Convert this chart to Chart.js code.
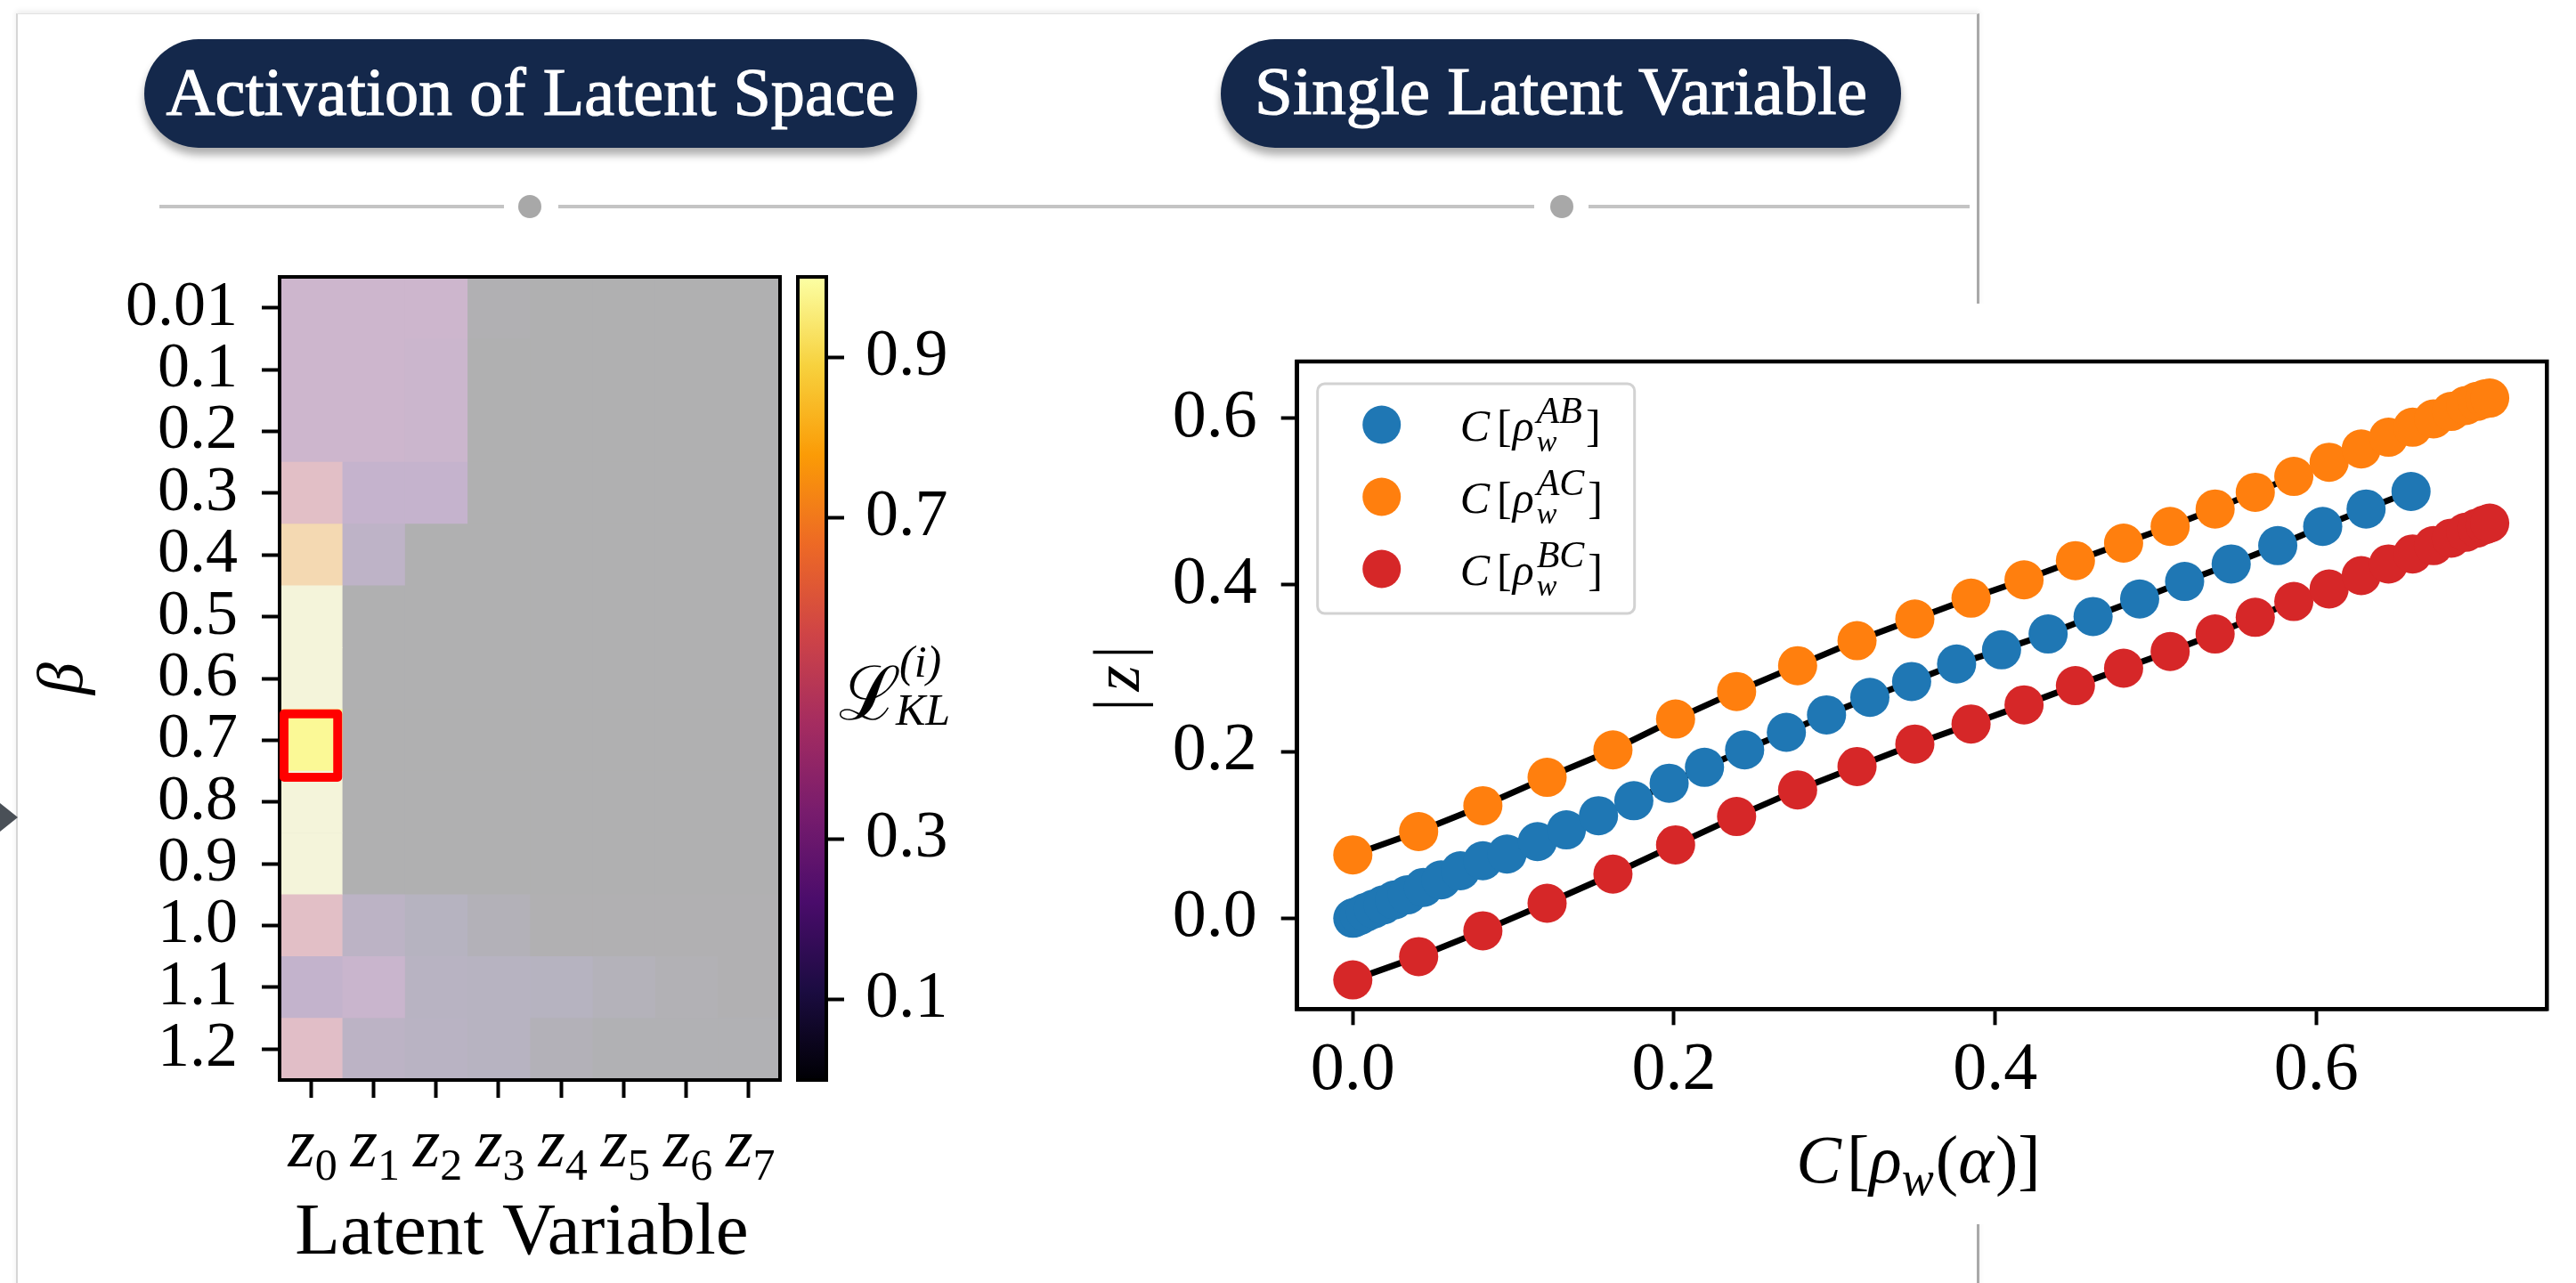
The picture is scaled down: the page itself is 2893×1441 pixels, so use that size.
<!DOCTYPE html>
<html>
<head>
<meta charset="utf-8">
<title>Activation of Latent Space / Single Latent Variable</title>
<script src="https://cdn.jsdelivr.net/npm/chart.js@4.4.1/dist/chart.umd.min.js"></script>
<style>
  html, body { margin:0; padding:0; background:#ffffff; }
  body { width:2893px; height:1441px; position:relative; overflow:hidden; }
  #card { position:absolute; left:18px; top:15px; width:2200px; height:1480px; background:#fff;
          border-left:2px solid #d6d6d6; border-top:1px solid #e2e2e2; border-right:3px solid #a9a9a9;
          box-shadow:0 -3px 6px rgba(0,0,0,0.07); }
  .pill { position:absolute; top:44px; height:122px; border-radius:61px; background:#14284b;
          box-shadow:0 8px 10px rgba(0,0,0,0.32); display:flex; align-items:center; justify-content:center; }
  .pill span { color:#fff; font-family:"Liberation Serif", serif; font-weight:normal; font-size:72px;
          -webkit-text-stroke:1.2px #fff; white-space:nowrap; line-height:1; position:relative; top:-2px; }
  .rule { position:absolute; height:4px; top:230px; background:#c4c4c4; }
  .dot { position:absolute; width:26px; height:26px; border-radius:50%; background:#a8a8a8; top:219px; }
  #arrow { position:absolute; left:0; top:902px; width:0; height:0; border-top:16px solid transparent;
           border-bottom:16px solid transparent; border-left:20px solid #4a5057; }
  canvas { position:absolute; }
  #sc { background:#ffffff; }
</style>
</head>
<body>
<div id="card"></div>
<div class="pill" id="pill1" style="left:162px;width:868px;"><span data-w="819">Activation of Latent Space</span></div>
<div class="pill" id="pill2" style="left:1371px;width:764px;"><span data-w="688">Single Latent Variable</span></div>
<div class="rule" style="left:179px;width:387px;"></div>
<div class="dot" style="left:582px;"></div>
<div class="rule" style="left:627px;width:1096px;"></div>
<div class="dot" style="left:1741px;"></div>
<div class="rule" style="left:1784px;width:428px;"></div>
<div id="arrow"></div>

<canvas id="hm" width="1100" height="1441" style="left:0;top:0;"></canvas>
<canvas id="cb" width="220" height="1441" style="left:880px;top:0;"></canvas>
<canvas id="sc" width="1793" height="1034" style="left:1100px;top:341px;"></canvas>

<script>
// ------------------------- DATA -------------------------
// Heatmap: rows = beta values, columns = latent variables z0..z7
const betaLabels = ['0.01','0.1','0.2','0.3','0.4','0.5','0.6','0.7','0.8','0.9','1.0','1.1','1.2'];
const latentIndex = ['0','1','2','3','4','5','6','7'];
// KL activation per latent variable (one array per column, rows follow betaLabels)
const klZ0 = [0.30, 0.30, 0.30, 0.50, 0.775, 0.99, 0.99, 0.985, 0.99, 0.99, 0.50, 0.21, 0.49];
const klZ1 = [0.30, 0.30, 0.30, 0.23, 0.17, 0, 0, 0, 0, 0, 0.15, 0.27, 0.15];
const klZ2 = [0.30, 0.29, 0.29, 0.23, 0, 0, 0, 0, 0, 0, 0.10, 0.12, 0.13];
const klZ3 = [0.015, 0, 0, 0, 0, 0, 0, 0, 0, 0, 0.05, 0.11, 0.11];
const klZ4 = [0, 0, 0, 0, 0, 0, 0, 0, 0, 0, 0.01, 0.10, 0.05];
const klZ5 = [0, 0, 0, 0, 0, 0, 0, 0, 0, 0, 0.01, 0.06, 0.02];
const klZ6 = [0, 0, 0, 0, 0, 0, 0, 0, 0, 0, 0.01, 0.03, 0.02];
const klZ7 = [0, 0, 0, 0, 0, 0, 0, 0, 0, 0, 0.01, 0.01, 0.02];
const highlightBeta = '0.7';
const highlightLatent = 0;
const colorbarTicks = [0.1, 0.3, 0.7, 0.9];

// Scatter: |z| against concurrence
const cABx = [0.000, 0.001, 0.004, 0.008, 0.013, 0.019, 0.026, 0.034, 0.044, 0.055, 0.067, 0.081, 0.096, 0.115, 0.133, 0.153, 0.175, 0.197, 0.219, 0.244, 0.270, 0.295, 0.322, 0.348, 0.376, 0.404, 0.433, 0.461, 0.490, 0.518, 0.547, 0.576, 0.604, 0.631, 0.659];
const cABy = [0.000, 0.001, 0.003, 0.007, 0.011, 0.016, 0.022, 0.028, 0.037, 0.046, 0.057, 0.069, 0.077, 0.092, 0.106, 0.123, 0.141, 0.162, 0.181, 0.202, 0.223, 0.244, 0.265, 0.284, 0.305, 0.322, 0.341, 0.362, 0.383, 0.404, 0.425, 0.447, 0.470, 0.491, 0.512];
const cACx = [0.000, 0.041, 0.081, 0.121, 0.162, 0.201, 0.239, 0.277, 0.314, 0.350, 0.385, 0.418, 0.450, 0.480, 0.509, 0.537, 0.562, 0.586, 0.608, 0.628, 0.645, 0.660, 0.673, 0.684, 0.693, 0.700, 0.705, 0.708];
const cACy = [0.076, 0.104, 0.135, 0.169, 0.202, 0.239, 0.272, 0.303, 0.333, 0.359, 0.384, 0.406, 0.429, 0.450, 0.470, 0.491, 0.511, 0.530, 0.547, 0.563, 0.577, 0.589, 0.599, 0.608, 0.615, 0.620, 0.623, 0.624];
const cBCx = [0.000, 0.041, 0.081, 0.121, 0.162, 0.201, 0.239, 0.277, 0.314, 0.350, 0.385, 0.418, 0.450, 0.480, 0.509, 0.537, 0.562, 0.586, 0.608, 0.628, 0.645, 0.660, 0.673, 0.684, 0.693, 0.700, 0.705, 0.708];
const cBCy = [-0.074, -0.046, -0.015, 0.018, 0.053, 0.088, 0.122, 0.154, 0.182, 0.209, 0.233, 0.256, 0.279, 0.300, 0.320, 0.341, 0.361, 0.380, 0.395, 0.411, 0.425, 0.437, 0.447, 0.456, 0.463, 0.468, 0.472, 0.474];
const scatterTicks = [0, 0.2, 0.4, 0.6];
const legendPairs = ['AB', 'AC', 'BC'];

// ------------------------- STYLE HELPERS -------------------------
Chart.defaults.color = '#000';
Chart.defaults.font.family = '"Liberation Serif", serif';

const INFERNO = [[0,0,4],[27,12,65],[74,12,107],[120,28,109],[165,44,96],[207,68,70],[237,105,37],[251,155,6],[247,209,61],[252,255,164]];
function inferno(v){
  v = Math.max(0, Math.min(1, v));
  const p = v * (INFERNO.length - 1);
  const i = Math.min(INFERNO.length - 2, Math.floor(p));
  const f = p - i;
  return INFERNO[i].map((c, k) => c + (INFERNO[i+1][k] - c) * f);
}
const CELL_ALPHA = 0.27, CELL_BASE = 241;
function cellColor(v, full){
  const c = inferno(v); const a = full ? 1 : CELL_ALPHA;
  return 'rgb(' + c.map(x => Math.round(CELL_BASE * (1 - a) + x * a)).join(',') + ')';
}
const R = s => `${s}px "Liberation Serif"`;
const I = s => `italic ${s}px "Liberation Serif"`;
function runW(ctx, r){
  if (r.stack) return Math.max(...r.stack.map(s => { ctx.font = s.font; return ctx.measureText(s.text).width + (s.dx || 0); })) + (r.kern || 0);
  ctx.font = r.font; return ctx.measureText(r.text).width + (r.kern || 0);
}
function drawRuns(ctx, runs, x, y, align){
  const total = runs.reduce((a, r) => a + runW(ctx, r), 0);
  let cx = align === 'center' ? x - total / 2 : x;
  ctx.save(); ctx.fillStyle = '#000'; ctx.textAlign = 'left'; ctx.textBaseline = 'alphabetic';
  for (const r of runs){
    const w = runW(ctx, r);
    if (r.stack) for (const s of r.stack){ ctx.font = s.font; ctx.fillText(s.text, cx + (s.dx || 0), y + (s.dy || 0)); }
    else { ctx.font = r.font; ctx.fillText(r.text, cx + (r.pre || 0), y + (r.dy || 0)); }
    cx += w;
  }
  ctx.restore();
}

// fit pill texts
document.querySelectorAll('.pill span').forEach(sp => {
  const target = +sp.dataset.w; const w = sp.getBoundingClientRect().width;
  sp.style.fontSize = (72 * target / w).toFixed(2) + 'px';
});

// ------------------------- HEATMAP -------------------------
const klColumns = [klZ0, klZ1, klZ2, klZ3, klZ4, klZ5, klZ6, klZ7];
const HM = {left:314, right:876, top:311, bottom:1213, yW:250, xH:200, W:1100, H:1441};

const hmDecor = {
  id: 'hmDecor',
  beforeDatasetsDraw(chart){
    const {ctx, chartArea:a} = chart;
    ctx.save(); ctx.fillStyle = cellColor(0, false);
    ctx.fillRect(a.left, a.top, a.right - a.left, a.bottom - a.top); ctx.restore();
  },
  afterDraw(chart){
    const {ctx, chartArea:a, scales:{x, y}} = chart;
    ctx.save();
    ctx.strokeStyle = '#000'; ctx.lineWidth = 4;
    ctx.strokeRect(a.left, a.top, a.right - a.left, a.bottom - a.top);
    // highlighted cell
    const row = betaLabels.indexOf(highlightBeta);
    const x0 = x.getPixelForValue(highlightLatent - 0.5), x1 = x.getPixelForValue(highlightLatent + 0.5);
    const h = y.getPixelForValue(1) - y.getPixelForValue(0);
    const top = y.getPixelForValue(row) - h / 2;
    ctx.strokeStyle = '#ff0000'; ctx.lineWidth = 10; ctx.lineJoin = 'round';
    ctx.strokeRect(x0 + 5, top + 5, (x1 - x0) - 10, h + 2);
    ctx.restore();
    // latent tick labels z_i
    latentIndex.forEach((d, j) => {
      const px = x.getPixelForValue(j);
      drawRuns(ctx, [{text:'z', font:I(78)}, {text:d, font:R(50), dy:15}], px + 2, 1310, 'center');
    });
    // x title
    ctx.save(); ctx.fillStyle = '#000'; ctx.font = R(83); ctx.textAlign = 'center'; ctx.textBaseline = 'alphabetic';
    ctx.fillText('Latent Variable', (a.left + a.right) / 2 - 9, 1408);
    // y title beta
    ctx.translate(92, 762); ctx.rotate(-Math.PI / 2);
    ctx.font = I(72); ctx.fillText('β', 0, 0);
    ctx.restore();
  }
};

new Chart(document.getElementById('hm'), {
  type: 'bar',
  data: {
    labels: betaLabels,
    datasets: klColumns.map((col, j) => ({
      label: 'z' + latentIndex[j],
      data: col.map(() => [j - 0.5, j + 0.5]),
      backgroundColor: col.map((v, i) => cellColor(v, betaLabels[i] === highlightBeta && j === highlightLatent)),
      borderWidth: 0, barPercentage: 1, categoryPercentage: 1, grouped: false
    }))
  },
  options: {
    indexAxis: 'y', responsive: false, animation: false, events: [], devicePixelRatio: 1,
    layout: {padding: {left: HM.left - HM.yW, top: HM.top, right: HM.W - HM.right, bottom: HM.H - HM.bottom - HM.xH}},
    plugins: {legend: {display: false}, tooltip: {enabled: false}},
    scales: {
      x: {type: 'linear', position: 'bottom', min: -0.5, max: 7.5,
          afterBuildTicks: s => { s.ticks = latentIndex.map((_, j) => ({value: j})); },
          afterFit: s => { s.height = HM.xH; },
          ticks: {display: false},
          grid: {drawOnChartArea: false, drawTicks: true, tickLength: 20, tickWidth: 4, tickColor: '#000'},
          border: {display: true, color: '#000', width: 4}},
      y: {type: 'category', position: 'left',
          afterFit: s => { s.width = HM.yW; },
          ticks: {color: '#000', font: {size: 72, lineHeight: 1}, padding: 27, autoSkip: false},
          grid: {offset: false, drawOnChartArea: false, drawTicks: true, tickLength: 20, tickWidth: 4, tickColor: '#000'},
          border: {display: true, color: '#000', width: 4}}
    }
  },
  plugins: [hmDecor]
});

// ------------------------- COLORBAR -------------------------
const CB = {left:16, right:48, top:311, bottom:1213, yW:150, W:220, H:1441};
const cbDecor = {
  id: 'cbDecor',
  afterDraw(chart){
    const {ctx, chartArea:a} = chart;
    ctx.save(); ctx.strokeStyle = '#000'; ctx.lineWidth = 4;
    ctx.strokeRect(a.left, a.top, a.right - a.left, a.bottom - a.top); ctx.restore();
    // colorbar label  L_KL^(i)
    ctx.save(); ctx.fillStyle = '#000'; ctx.textBaseline = 'alphabetic';
    ctx.font = R(84); ctx.fillText('ℒ', 62, 808);
    const lw = ctx.measureText('ℒ').width;
    ctx.font = I(50); ctx.fillText('(i)', 62 + lw - 2, 760);
    ctx.font = I(50); ctx.fillText('KL', 62 + lw - 6, 814);
    ctx.restore();
  }
};
new Chart(document.getElementById('cb'), {
  type: 'bar',
  data: {labels: [''], datasets: [{
    data: [[0, 1]],
    backgroundColor: c => {
      const a = c.chart.chartArea; if (!a) return '#000';
      const g = c.chart.ctx.createLinearGradient(0, a.bottom, 0, a.top);
      INFERNO.forEach((col, i) => g.addColorStop(i / (INFERNO.length - 1), 'rgb(' + col.join(',') + ')'));
      return g;
    },
    barPercentage: 1, categoryPercentage: 1, borderWidth: 0}]},
  options: {
    responsive: false, animation: false, events: [], devicePixelRatio: 1,
    layout: {padding: {left: CB.left, top: CB.top, right: CB.W - CB.right - CB.yW, bottom: CB.H - CB.bottom}},
    plugins: {legend: {display: false}, tooltip: {enabled: false}},
    scales: {
      x: {display: false},
      y: {position: 'right', min: 0, max: 1,
          afterBuildTicks: s => { s.ticks = colorbarTicks.map(v => ({value: v})); },
          afterFit: s => { s.width = CB.yW; },
          ticks: {font: {size: 74, lineHeight: 1}, padding: 24, callback: v => Number(v).toFixed(1)},
          grid: {drawOnChartArea: false, drawTicks: true, tickLength: 20, tickWidth: 4, tickColor: '#000'},
          border: {display: false}}
    }
  },
  plugins: [cbDecor]
});

// ------------------------- SCATTER -------------------------
const SC = {W:1793, H:1034, left:356.7, right:1760.3, top:50.5, bottom:792.3, yW:150, xH:120};
const pts = (xs, ys) => xs.map((x, i) => ({x, y: ys[i]}));
const seriesColors = ['#1f77b4', '#ff7f0e', '#d62728'];
const seriesData = [pts(cABx, cABy), pts(cACx, cACy), pts(cBCx, cBCy)];

const scDecor = {
  id: 'scDecor',
  afterDraw(chart){
    const {ctx, chartArea:a} = chart;
    ctx.save(); ctx.strokeStyle = '#000'; ctx.lineWidth = 4.5;
    ctx.strokeRect(a.left, a.top, a.right - a.left, a.bottom - a.top); ctx.restore();
    // legend
    const bx = a.left + 23, by = a.top + 25, bw = 356, bh = 258;
    ctx.save();
    ctx.fillStyle = 'rgba(255,255,255,0.85)'; ctx.strokeStyle = '#d2d2d2'; ctx.lineWidth = 3;
    ctx.beginPath(); ctx.roundRect(bx, by, bw, bh, 8); ctx.fill(); ctx.stroke();
    legendPairs.forEach((p, i) => {
      const cy = by + 46 + i * 81;
      ctx.fillStyle = seriesColors[i]; ctx.beginPath(); ctx.arc(bx + 72, cy, 21.5, 0, Math.PI * 2); ctx.fill();
      drawRuns(ctx, [
        {text:'C', font:I(50), kern:8},
        {text:'[', font:R(50), kern:1},
        {text:'ρ', font:I(50), kern:3},
        {stack:[{text:p, font:I(42), dy:-20}, {text:'w', font:I(34), dy:12}], kern:4},
        {text:']', font:R(50)}
      ], bx + 160, cy + 18, 'left');
    });
    ctx.restore();
    // x title
    drawRuns(ctx, [
      {text:'C', font:I(76), kern:6},
      {text:'[', font:R(76)},
      {text:'ρ', font:I(76)},
      {text:'w', font:I(54), dy:14, kern:2},
      {text:'(', font:R(76)},
      {text:'α', font:I(76), kern:2},
      {text:')', font:R(76)},
      {text:']', font:R(76)}
    ], (a.left + a.right) / 2 - 4, 987, 'center');
    // y title |z|
    ctx.save(); ctx.fillStyle = '#000'; ctx.translate(178.5, 421); ctx.rotate(-Math.PI / 2);
    ctx.textAlign = 'center'; ctx.textBaseline = 'alphabetic';
    ctx.font = R(75); ctx.fillText('|', -29.5, 0); ctx.fillText('|', 29.5, 0);
    ctx.font = I(75); ctx.fillText('z', 0, 0);
    ctx.restore();
  }
};

new Chart(document.getElementById('sc'), {
  type: 'scatter',
  data: {datasets: [
    ...seriesData.map((d, i) => ({label: 'fit ' + legendPairs[i], data: d, showLine: true, borderColor: '#000', borderWidth: 7,
                                   pointRadius: 0, pointHoverRadius: 0, order: 10})),
    ...seriesData.map((d, i) => ({label: 'C[ρw^' + legendPairs[i] + ']', data: d, showLine: false,
                                   backgroundColor: seriesColors[i], borderWidth: 0, pointRadius: 22,
                                   pointHoverRadius: 22, order: 3 - i}))
  ]},
  options: {
    responsive: false, animation: false, events: [], devicePixelRatio: 1,
    layout: {padding: {left: SC.left - SC.yW, top: SC.top, right: SC.W - SC.right, bottom: SC.H - SC.bottom - SC.xH}},
    plugins: {legend: {display: false}, tooltip: {enabled: false}},
    scales: {
      x: {type: 'linear', min: -0.0347, max: 0.7436,
          afterBuildTicks: s => { s.ticks = scatterTicks.map(v => ({value: v})); },
          afterFit: s => { s.height = SC.xH; },
          ticks: {font: {size: 76, lineHeight: 1}, padding: 14, maxRotation: 0, callback: v => Number(v).toFixed(1)},
          grid: {drawOnChartArea: false, drawTicks: true, tickLength: 18, tickWidth: 4, tickColor: '#000'},
          border: {display: true, color: '#000', width: 4.5}},
      y: {type: 'linear', min: -0.1089, max: 0.6679,
          afterBuildTicks: s => { s.ticks = scatterTicks.map(v => ({value: v})); },
          afterFit: s => { s.width = SC.yW; },
          ticks: {font: {size: 76, lineHeight: 1}, padding: 27, callback: v => Number(v).toFixed(1)},
          grid: {drawOnChartArea: false, drawTicks: true, tickLength: 18, tickWidth: 4, tickColor: '#000'},
          border: {display: true, color: '#000', width: 4.5}}
    }
  },
  plugins: [scDecor]
});
</script>
</body>
</html>
